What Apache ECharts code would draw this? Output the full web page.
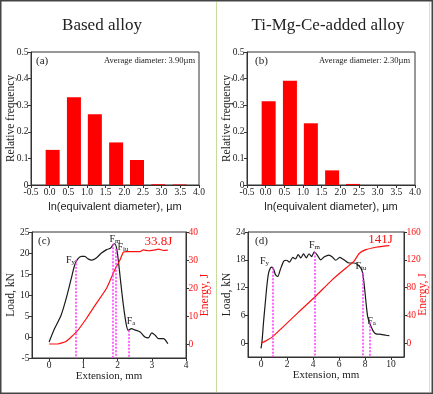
<!DOCTYPE html>
<html><head><meta charset="utf-8">
<script src="https://cdn.jsdelivr.net/npm/echarts@6/dist/echarts.min.js"></script>
<style>html,body{margin:0;padding:0;background:#fff}#c{width:433px;height:394px}</style>
</head><body><div id="c"></div>
<script>
// ---- Data ----
const binCenters = [0.08, 0.65, 1.21, 1.78, 2.34, 2.91, 3.48];
const freqBased = [0.132, 0.330, 0.266, 0.160, 0.094, 0.003, 0.002];
const freqTiMgCe = [0.315, 0.392, 0.232, 0.055, 0.004, 0, 0];
const histTicks = [-0.5, 0, 0.5, 1, 1.5, 2, 2.5, 3, 3.5, 4];

const extLoadC = [0, 0.16, 0.35, 0.5, 0.65, 0.75, 0.84, 0.94, 1.04, 1.14, 1.24, 1.38, 1.53, 1.68, 1.8, 1.87, 1.92, 1.97, 2.02, 2.09, 2.17, 2.25, 2.31, 2.41, 2.5, 2.66, 2.8, 2.9, 3.0, 3.1, 3.2, 3.34, 3.47];
const loadC = [-1.2, 2.0, 5.2, 9.2, 14, 17.2, 18.6, 19.2, 19.2, 18.6, 18.3, 18.8, 20, 20.8, 21.2, 22, 22.2, 21.2, 18.4, 13.2, 7.6, 3.2, 1.6, 2.0, 1.7, 1.2, 0, -0.2, 1.0, 0.4, -0.4, -0.4, -1.6];
const extEnergyC = [0, 0.25, 0.5, 0.8, 1.09, 1.38, 1.68, 1.92, 2.07, 2.17, 2.26, 2.46, 2.66, 2.75, 2.9, 3.05, 3.2, 3.34, 3.47];
const energyC = [0, 0, 1, 4.3, 9.1, 14.5, 19.9, 26.5, 30, 32.8, 33, 33, 33, 33.6, 33.3, 33.5, 33.9, 33.4, 33.5];
const markExtC = [0.77, 1.85, 1.96, 2.34];
const markLoadC = [18.4, 22.2, 21.0, 1.6];

const extLoadD = [0, 0.08, 0.2, 0.34, 0.46, 0.59, 0.72, 0.85, 0.98, 1.11, 1.29, 1.49, 1.75, 1.96, 2.19, 2.45, 2.65, 2.86, 3.07, 3.27, 3.48, 3.69, 3.89, 4.1, 4.33, 4.59, 4.85, 5.23, 5.49, 5.75, 6.06, 6.39, 6.78, 7.16, 7.42, 7.68, 7.81, 7.94, 8.07, 8.2, 8.32, 8.45, 8.63, 8.84, 9.23, 9.61, 9.87];
const loadD = [-1.15, 0.4, 4.7, 9, 12.6, 15.2, 16.2, 16.4, 15.9, 14.8, 14.4, 15.9, 17.7, 17.9, 17.5, 18.5, 18.2, 19.1, 18.4, 19.3, 18.4, 19.3, 18.7, 19.7, 19.0, 18.0, 18.6, 19.0, 18.6, 17.9, 18.5, 18.0, 17.3, 17.3, 17.0, 16.2, 15.2, 12.6, 9.0, 5.8, 4.6, 3.7, 2.6, 2.0, 1.9, 1.7, 1.6];
const extEnergyD = [0, 0.34, 0.85, 1.62, 2.91, 4.2, 5.49, 6.78, 7.16, 7.55, 8.07, 8.84, 9.36, 9.87];
const energyD = [0, 2.9, 8.6, 22, 45, 67.5, 91.5, 112, 118, 129, 134.6, 138, 139.4, 140.4];
const markExtD = [0.93, 4.1, 7.84, 8.35];
const markLoadD = [16.3, 19.7, 15.2, 4.5];

const ticksC = [0, 1, 2, 3, 4];
const ticksD = [0, 2, 4, 6, 8, 10];
const loadTicksC = [-5, 0, 5, 10, 15, 20, 25];
const energyTicksC = [0, 10, 20, 30, 40];
const loadTicksD = [0, 6, 12, 18, 24];
const energyTicksD = [0, 40, 80, 120, 160];

// ---- Build ----
const zip = (a, b) => a.map((v, i) => [v, b[i]]);
const SERIF = '"Liberation Serif", "DejaVu Serif", serif';
const SANS = '"Liberation Sans", Arial, sans-serif';
const RED = '#ff1010';
const axisCommon = {
  nameMoveOverlap: false,
  axisLine: {show: true, onZero: false, lineStyle: {color: '#333', width: 1}},
  axisTick: {show: true, length: 3, lineStyle: {color: '#333'}},
  splitLine: {show: false},
  axisLabel: {fontFamily: SERIF, fontSize: 9.5, color: '#222', margin: 2.5}
};
function xAx(idx, min, max, extra) {
  return Object.assign({}, axisCommon, {type: 'value', gridIndex: idx, min, max}, extra);
}
function yAx(idx, min, max, extra) {
  return Object.assign({}, axisCommon, {type: 'value', gridIndex: idx, min, max}, extra);
}
function markLines(xs, ys, bottom) {
  return {
    silent: true, symbol: 'none', label: {show: false}, animation: false,
    lineStyle: {color: '#ff33ff', type: [2, 1.5], width: 1.5},
    data: xs.map((x, i) => [{coord: [x, ys[i]]}, {coord: [x, bottom]}])
  };
}
const fmt1 = v => v.toFixed(1);
const fmtFreq = v => v === 0 ? '0' : v.toFixed(1);

const hName = {name: 'ln(equivalent diameter), µm', nameLocation: 'middle', nameGap: 16,
  nameTextStyle: {fontFamily: SANS, fontSize: 11, color: '#222'}};
const fName = {name: 'Relative frequency', nameLocation: 'middle', nameGap: 14,
  nameTextStyle: {fontFamily: SERIF, fontSize: 11.5, color: '#222'}};
const extName = {name: 'Extension, mm', nameLocation: 'middle', nameGap: 13,
  nameTextStyle: {fontFamily: SERIF, fontSize: 11, color: '#222'}};
const loadName = {name: 'Load, kN', nameLocation: 'middle', nameGap: 15,
  nameTextStyle: {fontFamily: SERIF, fontSize: 11.5, color: '#222'}};
const energyName = {name: 'Energy, J', nameLocation: 'middle', nameGap: 13, nameRotate: 90,
  nameTextStyle: {fontFamily: SERIF, fontSize: 11.5, color: RED}};

function txt(x, y, text, size, align, color, font) {
  return {type: 'text', x, y, silent: true, style: {
    text, font: size + 'px ' + (font || SERIF), fill: color || '#222',
    textAlign: align || 'center', align: align || 'center',
    textVerticalAlign: 'middle', verticalAlign: 'middle'}};
}
function sub(x, y, main, s) {
  return {type: 'text', x, y, silent: true, style: {
    text: '{a|' + main + '}{b|' + s + '}',
    rich: {a: {fontSize: 10, fontFamily: SERIF, fill: '#222', color: '#222'},
           b: {fontSize: 7, fontFamily: SERIF, fill: '#222', color: '#222', padding: [4, 0, 0, 0]}},
    textAlign: 'center', align: 'center', textVerticalAlign: 'middle', verticalAlign: 'middle'}};
}

const option = {
  animation: false,
  backgroundColor: '#fff',
  grid: [
    {left: 31, top: 52, width: 168, height: 133},
    {left: 247, top: 52, width: 168, height: 133},
    {left: 32, top: 232, width: 154, height: 126},
    {left: 248, top: 232, width: 156, height: 125}
  ].map(g => Object.assign(g, {show: true, borderColor: '#333', borderWidth: 1, backgroundColor: 'transparent',
    containLabel: false, outerBoundsMode: 'none'})),
  xAxis: [
    xAx(0, -0.5, 4, Object.assign({interval: 0.5, axisLabel: Object.assign({}, axisCommon.axisLabel, {formatter: fmt1, customValues: histTicks})}, hName)),
    xAx(1, -0.5, 4, Object.assign({interval: 0.5, axisLabel: Object.assign({}, axisCommon.axisLabel, {formatter: fmt1, customValues: histTicks})}, hName)),
    xAx(2, -0.5, 4, Object.assign({axisTick: Object.assign({}, axisCommon.axisTick, {customValues: ticksC}),
      axisLabel: Object.assign({}, axisCommon.axisLabel, {customValues: ticksC})}, extName)),
    xAx(3, -1, 11, Object.assign({axisTick: Object.assign({}, axisCommon.axisTick, {customValues: ticksD}),
      axisLabel: Object.assign({}, axisCommon.axisLabel, {customValues: ticksD})}, extName))
  ],
  yAxis: [
    yAx(0, 0, 0.5, Object.assign({interval: 0.1, axisLabel: Object.assign({}, axisCommon.axisLabel, {formatter: fmtFreq})}, fName)),
    yAx(1, 0, 0.5, Object.assign({interval: 0.1, axisLabel: Object.assign({}, axisCommon.axisLabel, {formatter: fmtFreq})}, fName)),
    yAx(2, -5, 25, Object.assign({axisTick: Object.assign({}, axisCommon.axisTick, {customValues: loadTicksC}),
      axisLabel: Object.assign({}, axisCommon.axisLabel, {customValues: loadTicksC})}, loadName)),
    yAx(2, -5, 40, Object.assign({position: 'right', axisTick: Object.assign({}, axisCommon.axisTick, {customValues: energyTicksC}),
      axisLabel: Object.assign({}, axisCommon.axisLabel, {color: RED, customValues: energyTicksC})}, energyName)),
    yAx(3, -3, 24, Object.assign({axisTick: Object.assign({}, axisCommon.axisTick, {customValues: loadTicksD}),
      axisLabel: Object.assign({}, axisCommon.axisLabel, {customValues: loadTicksD})}, loadName)),
    yAx(3, -20, 160, Object.assign({position: 'right', axisTick: Object.assign({}, axisCommon.axisTick, {customValues: energyTicksD}),
      axisLabel: Object.assign({}, axisCommon.axisLabel, {color: RED, customValues: energyTicksD})}, energyName))
  ],
  series: [
    {type: 'bar', xAxisIndex: 0, yAxisIndex: 0, barWidth: 14, itemStyle: {color: '#ff0000'}, data: zip(binCenters, freqBased)},
    {type: 'bar', xAxisIndex: 1, yAxisIndex: 1, barWidth: 14, itemStyle: {color: '#ff0000'}, data: zip(binCenters, freqTiMgCe)},
    {type: 'line', xAxisIndex: 2, yAxisIndex: 2, showSymbol: false, symbol: 'none', smooth: 0.25,
      lineStyle: {color: '#1a1a1a', width: 1.2}, data: zip(extLoadC, loadC), markLine: markLines(markExtC, markLoadC, -5)},
    {type: 'line', xAxisIndex: 2, yAxisIndex: 3, showSymbol: false, symbol: 'none', smooth: 0.15,
      lineStyle: {color: RED, width: 1.2}, data: zip(extEnergyC, energyC)},
    {type: 'line', xAxisIndex: 3, yAxisIndex: 4, showSymbol: false, symbol: 'none', smooth: 0.25,
      lineStyle: {color: '#1a1a1a', width: 1.2}, data: zip(extLoadD, loadD), markLine: markLines(markExtD, markLoadD, -3)},
    {type: 'line', xAxisIndex: 3, yAxisIndex: 5, showSymbol: false, symbol: 'none', smooth: 0.15,
      lineStyle: {color: RED, width: 1.2}, data: zip(extEnergyD, energyD)}
  ],
  graphic: [
    {type: 'rect', silent: true, shape: {x: 0.75, y: 0.75, width: 431.5, height: 392.5}, style: {fill: 'none', stroke: '#444', lineWidth: 1.5}},
    {type: 'line', silent: true, shape: {x1: 216.5, y1: 2, x2: 216.5, y2: 392}, style: {stroke: '#c4dc9c', lineWidth: 1}},
    {type: 'line', silent: true, shape: {x1: 429.5, y1: 2, x2: 429.5, y2: 392}, style: {stroke: '#d4e6b4', lineWidth: 1}},
    txt(102, 26, 'Based alloy', 17),
    txt(328, 26, 'Ti-Mg-Ce-added alloy', 17),
    txt(36, 61, '(a)', 11, 'left'),
    txt(195, 61, 'Average diameter: 3.90µm', 8.5, 'right'),
    txt(255, 61, '(b)', 11, 'left'),
    txt(410, 61, 'Average diameter: 2.30µm', 8.5, 'right'),
    txt(38, 241, '(c)', 11, 'left'),
    txt(255, 241, '(d)', 11, 'left'),
    txt(158.5, 242, '33.8J', 13, 'center', RED),
    txt(380.5, 240, '141J', 13, 'center', RED),
    sub(70.5, 260.5, 'F', 'y'),
    sub(115, 239, 'F', 'm'),
    sub(123, 247, 'F', 'iu'),
    sub(131, 321.5, 'F', 'a'),
    sub(264.5, 261.5, 'F', 'y'),
    sub(314.5, 245, 'F', 'm'),
    sub(361, 266, 'F', 'iu'),
    sub(371.5, 321, 'F', 'a')
  ]
};
const chart = echarts.init(document.getElementById('c'), null, {renderer: 'canvas'});
chart.setOption(option);
</script>
</body></html>
